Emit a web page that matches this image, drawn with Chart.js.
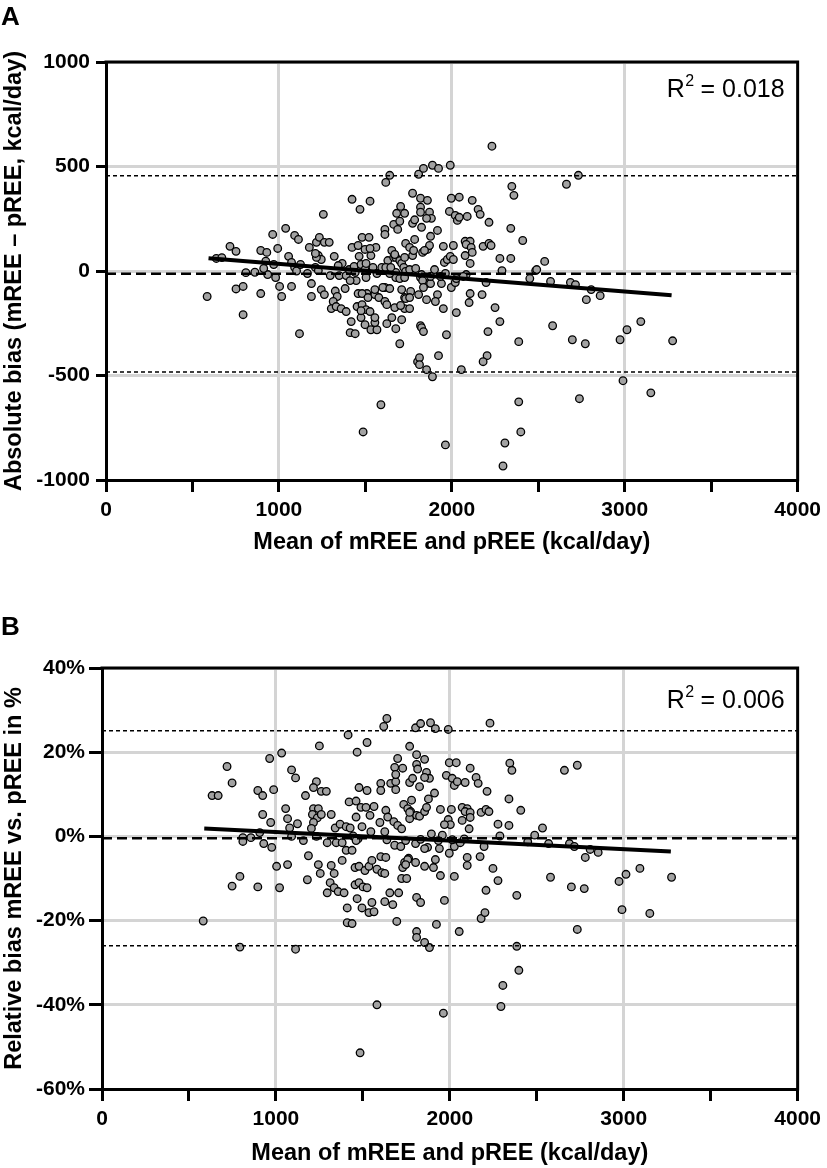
<!DOCTYPE html>
<html>
<head>
<meta charset="utf-8">
<script src="https://cdn.jsdelivr.net/npm/chart.js@4.4.1/dist/chart.umd.min.js"></script>
<style>
  body { margin: 0; background: #fff; width: 827px; height: 1168px; position: relative; overflow: hidden; }
  canvas { position: absolute; left: 0; }
  #chartA { top: 0; }
  #chartB { top: 580px; }
</style>
</head>
<body>
<canvas id="chartA" width="827" height="557" style="width:827px;height:557px"></canvas>
<canvas id="chartB" width="827" height="588" style="width:827px;height:588px"></canvas>
<script>
// Panel A: mean of mREE and pREE (kcal/day) vs absolute bias (kcal/day)
const absBiasPoints = [
  [585,-122],[638,60],[670,64],[717,118],[752,94],[752,-86],[793,-74],[895,-108],[809,-8],[861,-6],
  [895,98],[930,89],[924,47],[935,-17],[912,12],[970,31],[993,108],[964,175],[1039,204],[1091,170],
  [1113,151],[1004,-74],[1073,-74],[1016,-122],[1056,70],[1073,41],[1091,17],[1102,0],[1125,31],[1165,-12],
  [1176,113],[1188,-60],[1188,-122],[1211,17],[1217,137],[1234,161],[1257,271],[1228,74],[1245,55],[1217,65],
  [1228,2],[1245,-89],[1263,-113],[1263,137],[1291,137],[1297,-22],[1320,70],[1326,-96],[1337,-122],[1349,-22],
  [1366,36],[1389,-22],[1406,7],[1423,343],[1423,113],[1435,22],[1447,-46],[1458,122],[1469,295],[1464,70],
  [1458,-108],[1475,31],[1481,161],[1498,103],[1498,7],[1509,-108],[1521,161],[1527,334],[1532,74],[1561,113],
  [1544,17],[1555,-113],[1595,17],[1613,199],[1613,175],[1618,424],[1641,458],[1613,-79],[1630,50],[1653,98],
  [1664,223],[1687,199],[1699,238],[1704,309],[1681,276],[1727,276],[1664,65],[1676,65],[1699,50],[1710,36],
  [1733,132],[1756,113],[1773,74],[1773,372],[1785,151],[1773,228],[1785,245],[1722,17],[1676,-7],[1676,-31],
  [2232,597],[1808,463],[1836,491],[1888,506],[1923,491],[1991,506],[2663,415],[2732,458],[2347,405],[2359,362],
  [1819,348],[1859,338],[1819,305],[1819,281],[1871,281],[1882,252],[1854,252],[1825,209],[1917,194],[1997,348],
  [2043,353],[2118,338],[1986,285],[2020,266],[2032,242],[2043,257],[2089,261],[2152,295],[2164,271],[2215,233],
  [2341,204],[2410,146],[1877,166],[1779,98],[1831,89],[1859,103],[1871,122],[1951,118],[2009,122],[2077,142],
  [2106,142],[2083,127],[2112,113],[2118,89],[2077,74],[2106,36],[2181,118],[2215,132],[2227,122],[2278,60],
  [2341,60],[2290,2],[2537,46],[2485,2],[2491,7],[2451,-36],[2571,-50],[2686,-55],[2715,-65],[2806,-89],
  [2858,-118],[2778,-137],[2198,-55],[2106,-108],[2175,-113],[1997,-79],[2020,-55],[1940,-60],[1957,41],[1974,55],
  [1991,70],[2009,55],[1900,7],[1963,-12],[1934,-26],[1854,-60],[1877,-60],[1819,-31],[1825,-17],[2083,-17],
  [2066,-26],[2026,-36],[1917,-113],[1808,-113],[1762,-98],[1727,-127],[1699,-36],
  [793,-209],[1119,-300],[1314,-146],[1303,-180],[1331,-170],[1360,-180],[1389,-194],[1383,-84],[1418,-242],[1412,-295],
  [1441,-300],[1481,-108],[1452,-170],[1481,-161],[1475,-223],[1504,-185],[1527,-194],[1498,-257],[1532,-281],[1567,-281],
  [1555,-247],[1515,-127],[1555,-89],[1578,-127],[1601,-79],[1613,-146],[1624,-161],[1653,-223],[1624,-252],[1676,-276],
  [1710,-233],[1699,-348],[1727,-180],[1756,-180],[1733,-132],[1710,-89],[1802,-434],[1590,-640],[1487,-770],
  [1854,-137],[1905,-146],[1951,-180],[1819,-262],[1825,-271],[1836,-290],[1969,-305],[2026,-199],[2100,-151],[2250,-175],
  [2278,-242],[2209,-290],[2387,-338],[2583,-262],[2697,-329],[2772,-348],[2973,-329],[3013,-281],[3093,-242],[3277,-334],
  [1923,-405],[1813,-415],[1813,-448],[1854,-472],[1888,-506],[2055,-472],[2204,-405],[2181,-434],[2990,-525],[3151,-583],
  [2738,-611],[2387,-626],[2399,-770],[2307,-823],[1963,-832],[2296,-933],
  [1527,108],[1504,36],[1670,79],[1727,65],[1842,98],[981,-31],[1343,26],[1441,-7],[1412,-46],[1504,-31],
  [1567,-12],[1618,17],[1641,-12],[1647,17],[1733,-2],[1756,7],[1791,12],[1877,-26],[1727,-31],[1831,-46],
  [1641,-84],[1475,-190],[1555,-223],[1670,-175],[1704,-165],[1756,-127],[1836,-79],[1211,84]
];
const absLimits = [456, -13, -483];          // upper LoA, mean bias, lower LoA
const absFit = [[593, 61], [3271, -116]];    // regression line ends
const absTicks = { min: -1000, max: 1000, step: 500 };

// Panel B: mean of mREE and pREE (kcal/day) vs relative bias (%)
const relBiasPoints = [
  [633,9.7],[668,9.7],[719,16.6],[748,12.7],[896,10.9],[924,9.7],[924,5.2],[964,18.5],[970,3.3],[987,11.1],
  [1033,19.8],[1090,15.8],[1113,13.9],[1056,6.6],[1067,4.2],[1079,2.0],[1090,0],[1124,3.0],[1170,9.7],[1233,13.0],
  [1216,11.6],[1250,21.5],[1261,10.7],[1290,10.7],[1216,6.6],[1244,6.6],[1210,5.2],[1238,4.4],[1216,3.3],[1204,1.9],
  [1233,0],[1261,5.2],[1318,5.2],[1341,2.0],[1369,2.9],[1415,24.1],[1467,20],[1524,22.3],[1421,8.2],[1461,8.4],
  [1478,11.6],[1461,4.6],[1489,6.9],[1518,6.9],[1524,10.9],[1541,5.0],[1564,7.1],[1404,2.3],[1427,2.0],[1495,2.3],
  [1444,0.1],[1472,-0.6],[1546,1.1],[1598,3.3],[1626,1.1],[1603,12.6],[1603,10.9],[1620,26.1],[1638,28],[1632,6.2],
  [1643,4.6],[1660,12.6],[1689,13],[1700,18.5],[1683,16.4],[1729,16.2],[1689,14.7],[1689,11.1],[1769,21.4],[1735,7.6],
  [1758,6.6],[1775,5.9],[1769,4.2],[1678,3.5],[1700,2.6],[1723,1.8],[1803,25.8],[1809,19.4],[1809,17.1],[1780,8.6],
  [1809,5.0],[1683,-2.1],[1718,-2.4],[1638,-0.8],[1803,-1.7],[1746,-1.0],[810,-0.3],[810,-1.2],[856,-0.3],[907,0.9],
  [930,-1.7],[976,-2.6],[1004,-7.1],[1067,-6.7],[1158,-1.0],[1187,-4.6],[1244,-6.7],[1255,-8.8],[1295,-1.5],[1318,-6.9],
  [1335,-8.8],[1347,-1.5],[1381,-1.5],[1381,-5.7],[1404,-3.3],[1438,-3.3],[1461,-1.0],[1455,-7.4],[1478,-7.1],[1512,-8.1],
  [1535,-7.1],[1552,-5.7],[1581,-7.8],[1603,-4.8],[1632,-5.0],[1609,-8.6],[1626,-8.8],[1729,-7.4],[1740,-6.2],[1763,-5.2],
  [1803,-6.2],[793,-9.5],
  [2231,26.9],[1832,26.8],[1889,27],[1917,25.6],[1991,25.4],[2659,15.7],[2733,16.9],[2345,17.4],[2357,15.7],[1855,18.3],
  [1815,16],[1866,15.2],[1883,13.8],[1855,14],[1769,12.8],[1786,13.8],[1826,11.8],[1912,10.3],[1997,17.5],[2037,17.5],
  [2117,16.2],[1980,14.5],[2014,13.8],[2026,12.1],[2043,13],[2088,12.8],[2151,14],[2163,12.6],[2214,10.7],[2340,8.9],
  [2408,6.2],[1877,8.9],[1769,5.7],[1826,4.8],[1855,5.9],[1866,6.9],[1946,6.4],[2009,6.4],[2071,6.9],[2100,6.6],
  [2088,5.9],[2117,5.7],[2117,4.5],[2071,3.8],[2111,1.8],[2180,5.7],[2208,6.4],[2225,5.9],[2277,2.9],[2340,2.6],
  [2288,0.1],[2533,2.0],[2488,0.3],[2448,-1.3],[2568,-1.7],[2688,-1.7],[2716,-2.4],[2807,-3.1],[2853,-3.8],[2779,-5.0],
  [2197,-2.4],[2100,-5.0],[2174,-4.8],[1997,-4.0],[2026,-2.4],[1946,-9.3],[2100,-6.9],[2248,-7.6],[3013,-9.0],[3093,-7.6],
  [3275,-9.7],[2579,-9.7],[2026,-9.5],[1957,0.3],[1894,0.6],[1934,-1.0],[2014,-0.8],[2060,-1.5],[1940,-2.9],[1872,-2.6],
  [1855,-2.9],[1758,-5.5],[1746,-6.7],[1855,-7.1],[1906,-7.4],[1917,-5.5],
  [582,-20.1],[793,-26.3],[1113,-26.8],[748,-11.8],[896,-12],[1021,-12.2],[1181,-10.3],[1312,-11],[1335,-12.2],[1295,-13.4],
  [1358,-13.1],[1392,-13.4],[1455,-11.5],[1478,-11],[1501,-12],[1524,-12.2],[1467,-14.8],[1495,-17],[1410,-17],[1552,-15.7],
  [1535,-18.1],[1564,-17.9],[1410,-20.5],[1438,-20.7],[1626,-15.5],[1672,-16.2],[1655,-13.4],[1706,-13.4],[1695,-20.2],[1723,-10],
  [1752,-10],[1581,-40],[1484,-51.4],[1809,-14.5],[1809,-22.6],[1809,-24],
  [2277,-10.5],[2699,-12],[2773,-12.4],[2973,-10.7],[1832,-15.7],[1969,-15.2],[2208,-12.8],[2385,-14],[1855,-25.2],[1883,-26.4],
  [1923,-20.9],[2054,-22.6],[2180,-19.5],[2202,-18.1],[2990,-17.4],[3150,-18.3],[2733,-22.1],[2385,-26.1],[2397,-31.8],[2305,-35.4],
  [2294,-40.4],[1963,-42],
  [1991,4],[2003,2.8],[1969,2.8],[2083,-0.6],[1832,-0.7]
];
const relLimits = [25.1, -0.45, -26.0];
const relFit = [[588, 1.9], [3271, -3.6]];
const relTicks = { min: -60, max: 40, step: 20 };

const xTicks = { min: 0, max: 4000, step: 500 };
const xTitle = 'Mean of mREE and pREE (kcal/day)';

const FONT = "'Liberation Sans', Arial, Helvetica, sans-serif";
const GRID = '#d4d4d4';

// frame, panel letter and R² note
const panelPlugin = {
  id: 'panel',
  afterDraw(chart, args, o) {
    const { ctx, chartArea: { left, top, right, bottom } } = chart;
    ctx.save();
    ctx.strokeStyle = '#000';
    ctx.lineWidth = 3;
    ctx.beginPath();
    ctx.moveTo(left - 1.5, top);
    ctx.lineTo(right, top);
    ctx.lineTo(right, bottom + 1.5);
    ctx.stroke();

    ctx.fillStyle = '#000';
    ctx.textBaseline = 'alphabetic';
    ctx.textAlign = 'left';
    ctx.font = 'bold 26px ' + FONT;
    ctx.fillText(o.letter, 1, o.letterY);

    const rest = ' = ' + o.r2;
    ctx.font = '25px ' + FONT;
    const wR = ctx.measureText('R').width;
    const wRest = ctx.measureText(rest).width;
    ctx.font = '16px ' + FONT;
    const w2 = ctx.measureText('2').width;
    let x = right - 13 - (wR + w2 + wRest);
    const y = top + o.r2Dy;
    ctx.font = '25px ' + FONT;
    ctx.fillText('R', x, y);
    x += wR;
    ctx.font = '16px ' + FONT;
    ctx.fillText('2', x + 0.5, y - 11);
    x += w2;
    ctx.font = '25px ' + FONT;
    ctx.fillText(rest, x, y);
    ctx.restore();
  }
};

function hline(y, width, dash) {
  return {
    data: [{ x: xTicks.min, y: y }, { x: xTicks.max, y: y }],
    showLine: true, borderColor: '#000', borderWidth: width, borderDash: dash,
    pointRadius: 0, fill: false
  };
}

function makePanel(id, c) {
  const major = v => v % 1000 === 0;
  return new Chart(document.getElementById(id), {
    type: 'scatter',
    data: {
      datasets: [
        {
          data: c.fit.map(p => ({ x: p[0], y: p[1] })),
          showLine: true, borderColor: '#000', borderWidth: 4, pointRadius: 0, fill: false
        },
        hline(c.limits[1], 2.5, [10, 5]),
        hline(c.limits[0], 1.5, [4, 3]),
        hline(c.limits[2], 1.5, [4, 3]),
        {
          data: c.points.map(p => ({ x: p[0], y: p[1] })),
          backgroundColor: '#a2a2a2', borderColor: '#000', borderWidth: 1.3,
          pointRadius: 3.8, pointHoverRadius: 3.8
        }
      ]
    },
    options: {
      responsive: false,
      animation: false,
      devicePixelRatio: 1,
      layout: { padding: { top: c.top, right: 24, left: 0, bottom: 0 } },
      plugins: {
        legend: { display: false },
        tooltip: { enabled: false },
        panel: { letter: c.letter, letterY: c.letterY, r2: c.r2, r2Dy: c.r2Dy }
      },
      scales: {
        x: {
          type: 'linear', min: xTicks.min, max: xTicks.max,
          ticks: {
            stepSize: xTicks.step, autoSkip: false, maxRotation: 0, padding: 6, color: '#000',
            font: { family: FONT, size: 21, weight: 'bold' },
            callback: v => major(v) ? String(v) : ''
          },
          grid: {
            color: ctx => (ctx.tick && major(ctx.tick.value) && ctx.tick.value > 0 && ctx.tick.value < 4000) ? GRID : 'rgba(0,0,0,0)',
            lineWidth: 3, tickColor: '#000', tickWidth: 3, tickLength: 12
          },
          border: { color: '#000', width: 3 },
          title: {
            display: true, text: xTitle, color: '#000', padding: 0,
            font: { family: FONT, size: 23.5, weight: 'bold' }
          },
          afterFit: s => { s.height = c.xAxisHeight; }
        },
        y: {
          type: 'linear', min: c.ticks.min, max: c.ticks.max,
          ticks: {
            stepSize: c.ticks.step, autoSkip: false, padding: c.yPad, color: '#000',
            font: { family: FONT, size: 21, weight: 'bold' },
            callback: v => String(v) + c.unit
          },
          grid: { color: GRID, lineWidth: 3, tickColor: '#000', tickWidth: 3, tickLength: c.yTick },
          border: { color: '#000', width: 3 },
          title: {
            display: true, text: c.yTitle, color: '#000', padding: 0,
            font: { family: FONT, size: 23.5, weight: 'bold' }
          },
          afterFit: s => { s.width = c.yAxisWidth; }
        }
      }
    },
    plugins: [panelPlugin]
  });
}

makePanel('chartA', {
  points: absBiasPoints, limits: absLimits, fit: absFit, ticks: absTicks, unit: '',
  yTitle: 'Absolute bias (mREE \u2013 pREE, kcal/day)',
  top: 62, yAxisWidth: 106, xAxisHeight: 77, yTick: 10, yPad: 6,
  letter: 'A', letterY: 25, r2: '0.018', r2Dy: 35
});

makePanel('chartB', {
  points: relBiasPoints, limits: relLimits, fit: relFit, ticks: relTicks, unit: '%',
  yTitle: 'Relative bias mREE vs. pREE in %',
  top: 88, yAxisWidth: 102, xAxisHeight: 79, yTick: 13, yPad: 4,
  letter: 'B', letterY: 55, r2: '0.006', r2Dy: 40
});
</script>
</body>
</html>
